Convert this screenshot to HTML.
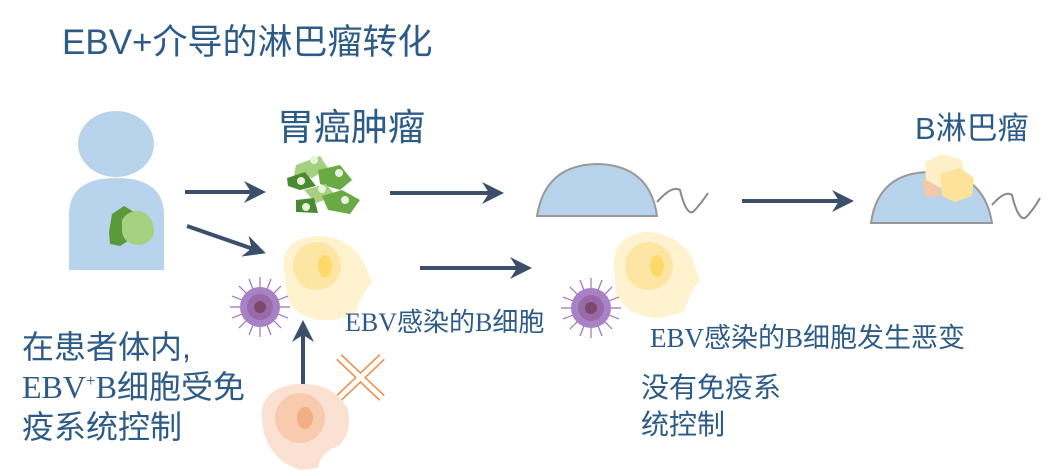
<!DOCTYPE html>
<html><head><meta charset="utf-8"><style>
html,body{margin:0;padding:0;background:#fff;width:1056px;height:472px;overflow:hidden}
svg{display:block}
.t{fill:#2d5b88;font-family:"Liberation Sans","Noto Sans CJK SC",sans-serif}
.s{fill:#2d5b88;font-family:"Liberation Serif","Noto Sans CJK SC",serif}
</style></head><body>
<svg width="1056" height="472" viewBox="0 0 1056 472" xmlns="http://www.w3.org/2000/svg">
<defs>
<marker id="ah2" markerWidth="22" markerHeight="22" refX="18" refY="11" orient="auto" markerUnits="userSpaceOnUse" viewBox="0 0 22 22">
<path d="M0,0 L22,11 L0,22 L7,11 Z" fill="#3b4f6b"/></marker>
<g id="virus">
<g stroke="#9a70b8" stroke-width="1.2">
<line x1="-30" y1="0" x2="30" y2="0"/><line x1="0" y1="-30" x2="0" y2="30"/>
<line x1="-21" y1="-21" x2="21" y2="21"/><line x1="-21" y1="21" x2="21" y2="-21"/>
<line x1="-28" y1="-11" x2="28" y2="11"/><line x1="-28" y1="11" x2="28" y2="-11"/>
<line x1="-11" y1="-28" x2="11" y2="28"/><line x1="-11" y1="28" x2="11" y2="-28"/>
</g>
<circle r="20" fill="#a982c6"/><circle r="13" fill="#9a6aa8"/><circle r="6" fill="#7a4a6a"/>
</g>
</defs>

<text x="62" y="54" class="t" font-size="35">EBV+介导的淋巴瘤转化</text>

<!-- person -->
<ellipse cx="116" cy="144" rx="38" ry="33" fill="#b8d4ec"/>
<path d="M69,270 L69,215 Q69,178 116,178 Q164,178 164,215 L164,270 Z" fill="#b8d4ec"/>
<path d="M109,232 L112,214 L124,206 L134,212 L136,236 L120,246 L110,244 Z" fill="#5a9a3a"/>
<path d="M122,220 Q128,210 140,211 Q154,216 154,232 Q152,244 138,245 Q124,244 122,232 Z" fill="#a5d080"/>

<line x1="185" y1="192" x2="262" y2="192" stroke="#3b4f6b" stroke-width="4" marker-end="url(#ah2)"/>
<line x1="187" y1="226" x2="262" y2="252" stroke="#3b4f6b" stroke-width="4" marker-end="url(#ah2)"/>

<text x="277" y="140" class="t" font-size="37">胃癌肿瘤</text>

<!-- green cells -->
<g>
<path d="M296,165 L320,156 L328,168 L312,178 L294,176 Z" fill="#a5d080"/>
<path d="M287,178 L305,172 L316,186 L300,190 L288,186 Z" fill="#4a8a30"/>
<path d="M318,170 L340,165 L352,180 L340,190 L320,184 Z" fill="#6aaa45"/>
<path d="M304,190 L326,184 L336,196 L316,203 Z" fill="#a5d080"/>
<path d="M296,200 L314,198 L318,213 L296,212 Z" fill="#4a8a30"/>
<path d="M322,196 L342,190 L360,200 L350,214 L328,210 Z" fill="#6aaa45"/>
<circle cx="314" cy="160" r="4" fill="#e8f3dc"/><circle cx="301" cy="181" r="4" fill="#e8f3dc"/>
<circle cx="339" cy="173" r="4" fill="#e8f3dc"/><circle cx="322" cy="189" r="4" fill="#e8f3dc"/>
<circle cx="306" cy="207" r="4" fill="#e8f3dc"/><circle cx="345" cy="200" r="4" fill="#e8f3dc"/>
</g>

<line x1="390" y1="193" x2="500" y2="193" stroke="#3b4f6b" stroke-width="4" marker-end="url(#ah2)"/>

<!-- dome 1 -->
<path d="M537,216 Q545,165 597,164 Q650,165 657,216 Z" fill="#b8d4ec" stroke="#999" stroke-width="2"/>
<path d="M657,202 Q672,185 680,190 Q686,215 693,212 Q700,205 708,193" fill="none" stroke="#888" stroke-width="2"/>

<line x1="742" y1="201" x2="850" y2="201" stroke="#3b4f6b" stroke-width="4" marker-end="url(#ah2)"/>

<!-- dome 2 -->
<path d="M871,223 Q878,172 931,172 Q984,172 992,223 Z" fill="#b8d4ec" stroke="#999" stroke-width="2"/>
<path d="M992,205 Q1005,190 1012,195 Q1018,220 1025,218 Q1032,212 1040,198" fill="none" stroke="#888" stroke-width="2"/>
<path d="M922,180 L938,176 L940,196 L926,197 Z" fill="#f5c8a8"/>
<path d="M925,162 L942,154 L962,160 L965,178 L945,190 L926,180 Z" fill="#fdefc8"/>
<path d="M940,174 L960,168 L974,178 L972,196 L955,202 L942,196 Z" fill="#fde39a"/>
<text x="915" y="139" class="t" font-size="31">B淋巴瘤</text>

<!-- yellow cell 1 -->
<path d="M284,270 Q280,238 318,236 Q350,236 365,265 L372,282 Q360,296 355,315 L332,320 Q300,322 288,300 Z" fill="#fef2cf"/>
<circle cx="317" cy="266" r="24" fill="#fde6a4"/>
<ellipse cx="325" cy="266" rx="7" ry="11" fill="#fdd96a"/>
<use href="#virus" x="260" y="307"/>

<line x1="303" y1="386" x2="303" y2="324" stroke="#3b4f6b" stroke-width="4" marker-end="url(#ah2)"/>
<!-- X -->
<g stroke="#f08a40" stroke-width="8"><line x1="339" y1="357" x2="382" y2="398"/><line x1="382" y1="357" x2="339" y2="398"/></g>
<g stroke="#fff" stroke-width="5"><line x1="339" y1="357" x2="382" y2="398"/><line x1="382" y1="357" x2="339" y2="398"/></g>

<!-- peach cell -->
<path d="M262,420 Q258,390 295,384 Q335,382 348,410 Q352,432 340,445 Q320,452 318,468 L300,470 Q265,458 262,420 Z" fill="#fbe1d2"/>
<circle cx="300" cy="418" r="25" fill="#f8cbae"/>
<ellipse cx="305" cy="418" rx="8" ry="11" fill="#f3ae85"/>

<line x1="420" y1="268" x2="528" y2="268" stroke="#3b4f6b" stroke-width="4" marker-end="url(#ah2)"/>
<text x="345" y="331" class="s" font-size="26">EBV感染的B细胞</text>

<!-- yellow cell 2 -->
<path d="M614,268 Q612,234 648,232 Q678,234 692,258 L700,280 Q688,295 684,312 L662,318 Q628,318 616,294 Z" fill="#fef2cf"/>
<circle cx="649" cy="266" r="24" fill="#fde6a4"/>
<ellipse cx="657" cy="266" rx="7" ry="11" fill="#fdd96a"/>
<use href="#virus" x="591" y="308"/>

<text x="650" y="347" class="s" font-size="27">EBV感染的B细胞发生恶变</text>
<text x="641" y="397" class="t" font-size="28">没有免疫系</text>
<text x="641" y="434" class="t" font-size="28">统控制</text>

<text x="22" y="358" class="t" font-size="32">在患者体内,</text>
<text x="22" y="398" class="s" font-size="32">EBV<tspan font-size="17" dy="-12">+</tspan><tspan dy="12">B细胞受免</tspan></text>
<text x="22" y="438" class="t" font-size="32">疫系统控制</text>
</svg>
</body></html>
